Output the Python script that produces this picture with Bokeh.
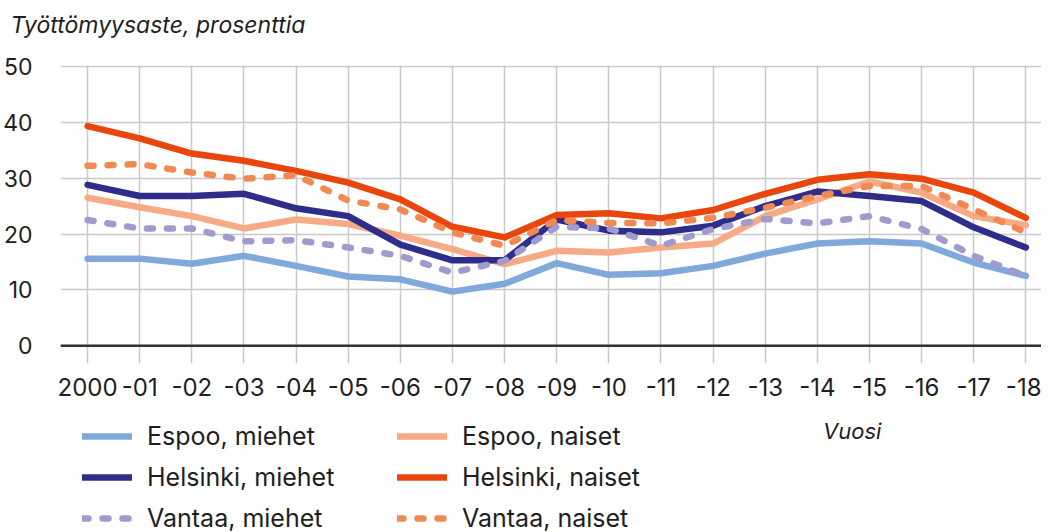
from bokeh.plotting import figure
from bokeh.layouts import column
from bokeh.models import Legend, LegendItem, Span, Label, FixedTicker, Range1d, ColumnDataSource
from bokeh.embed import file_html
from bokeh.resources import INLINE

# ---- data ----
years = list(range(2000, 2019))
x_labels = ["2000", "-01", "-02", "-03", "-04", "-05", "-06", "-07", "-08", "-09",
            "-10", "-11", "-12", "-13", "-14", "-15", "-16", "-17", "-18"]
y_ticks = [0, 10, 20, 30, 40, 50]

espoo_miehet = [15.6, 15.6, 14.7, 16.1, 14.3, 12.4, 11.9, 9.7, 11.1, 14.8,
                12.7, 13.0, 14.3, 16.5, 18.3, 18.7, 18.3, 14.9, 12.5]
espoo_naiset = [26.5, 24.8, 23.2, 21.0, 22.6, 21.8, 19.7, 17.3, 14.6, 17.0,
                16.7, 17.6, 18.3, 23.2, 26.2, 29.4, 27.4, 23.2, 21.6]
helsinki_miehet = [28.8, 26.8, 26.8, 27.2, 24.6, 23.2, 18.1, 15.3, 15.3, 22.6,
                   20.6, 20.3, 21.5, 25.0, 27.6, 26.8, 25.9, 21.2, 17.6]
helsinki_naiset = [39.3, 37.1, 34.4, 33.1, 31.3, 29.2, 26.2, 21.3, 19.4, 23.4,
                   23.7, 22.8, 24.3, 27.2, 29.7, 30.7, 29.9, 27.4, 22.9]
vantaa_miehet = [22.5, 21.0, 21.0, 18.7, 18.9, 17.6, 16.1, 13.1, 15.2, 21.3,
                 21.0, 17.9, 20.9, 22.7, 21.9, 23.2, 20.9, 16.1, 12.5]
vantaa_naiset = [32.2, 32.5, 31.0, 29.9, 30.5, 26.0, 24.4, 20.3, 17.9, 22.5,
                 22.0, 21.9, 22.9, 24.7, 26.8, 28.6, 28.6, 24.4, 20.3]

series_keys = ["em", "en", "hm", "hn", "vm", "vn"]
series_names = ["Espoo, miehet", "Espoo, naiset", "Helsinki, miehet",
                "Helsinki, naiset", "Vantaa, miehet", "Vantaa, naiset"]
legend_order = ["em", "hm", "vm", "en", "hn", "vn"]
title_text = "Työttömyysaste, prosenttia"
x_title = "Vuosi"

FONT = "Inter"
TXT = "#1e1e1e"

styles = {
    "em": dict(color="#80a8db", dash="solid"),
    "en": dict(color="#f6aa86", dash="solid"),
    "hm": dict(color="#2e2e8a", dash="solid"),
    "hn": dict(color="#e8460c", dash="solid"),
    "vm": dict(color="#a09bce", dash="6 14"),
    "vn": dict(color="#f08a52", dash="6 14"),
}
LW = 6.5


def bare(fig):
    fig.outline_line_color = None
    fig.grid.visible = False
    fig.background_fill_color = "white"
    fig.border_fill_color = "white"


# ---- title strip ----
t = figure(width=1041, height=50, output_backend="svg", toolbar_location=None,
           x_range=Range1d(0, 1), y_range=Range1d(0, 1),
           x_axis_type=None, y_axis_type=None,
           min_border_left=0, min_border_right=0, min_border_top=38, min_border_bottom=0)
bare(t)
t.title.text = title_text
t.title.text_font = FONT
t.title.text_font_size = "23px"
t.title.text_font_style = "italic"
t.title.text_color = TXT
t.title.align = "left"
t.title.offset = -50
t.title.standoff = 0

# ---- main chart ----
p = figure(width=1041, height=355, output_backend="svg", toolbar_location=None,
           x_range=Range1d(1999.48, 2018.30), y_range=Range1d(-3.16, 50.15),
           min_border_left=52, min_border_right=0, min_border_top=15,
           min_border_bottom=42)
p.outline_line_color = None
p.background_fill_color = "white"
p.border_fill_color = "white"

p.xaxis.ticker = FixedTicker(ticks=years)
p.xaxis.major_label_overrides = {yr: lab for yr, lab in zip(years, x_labels)}
p.yaxis.ticker = FixedTicker(ticks=y_ticks)
for ax in (p.xaxis, p.yaxis):
    ax.axis_line_color = None
    ax.major_tick_line_color = None
    ax.minor_tick_line_color = None
    ax.major_label_text_font = FONT
    ax.major_label_text_color = TXT
p.xaxis.major_label_text_font_size = "24px"
p.yaxis.major_label_text_font_size = "23px"
p.xaxis.major_label_standoff = 8
p.yaxis.major_label_standoff = 22

p.xgrid.grid_line_color = "#c9c9c9"
p.xgrid.grid_line_width = 1.5
p.ygrid.grid_line_color = "#c9c9c9"
p.ygrid.grid_line_width = 1.5

p.add_layout(Span(location=0, dimension="width", line_color="#333333", line_width=2.5))

src = ColumnDataSource(dict(year=years, em=espoo_miehet, en=espoo_naiset,
                            hm=helsinki_miehet, hn=helsinki_naiset,
                            vm=vantaa_miehet, vn=vantaa_naiset))
for key in series_keys:
    st = styles[key]
    p.line("year", key, source=src, line_color=st["color"], line_width=LW,
           line_dash=st["dash"], line_cap="round", line_join="round")

# ---- legend strip below ----
q = figure(width=1041, height=127, output_backend="svg", toolbar_location=None,
           x_range=p.x_range, y_range=Range1d(0, 127),
           x_axis_type=None, y_axis_type=None,
           min_border_left=52, min_border_right=0, min_border_top=0,
           min_border_bottom=0)
bare(q)

placeholder = ColumnDataSource(dict(x=[float("nan")], y=[float("nan")]))
legend_renderers = {}
for key in series_keys:
    st = styles[key]
    legend_renderers[key] = q.line("x", "y", source=placeholder, line_color=st["color"],
                                   line_width=LW, line_dash=st["dash"],
                                   line_cap="round", line_join="round")
name_of = dict(zip(series_keys, series_names))
items = [LegendItem(label=name_of[k], renderers=[legend_renderers[k]]) for k in legend_order]
legend = Legend(items=items, location=(22, -1), orientation="vertical", ncols=2)
legend.glyph_width = 50
legend.glyph_height = 28
legend.label_height = 28
legend.label_width = 239
legend.label_standoff = 15
legend.spacing = 11
legend.padding = 0
legend.margin = 0
legend.border_line_color = None
legend.background_fill_alpha = 0
legend.label_text_font = FONT
legend.label_text_font_size = "25px"
legend.label_text_color = TXT
q.add_layout(legend, "center")

q.add_layout(Label(x=2014.67, y=102, text=x_title, text_font=FONT,
                   text_font_size="22px", text_font_style="italic",
                   text_color=TXT, text_align="center", text_baseline="middle"))

open("out.html", "w").write(file_html(column(t, p, q), INLINE))
